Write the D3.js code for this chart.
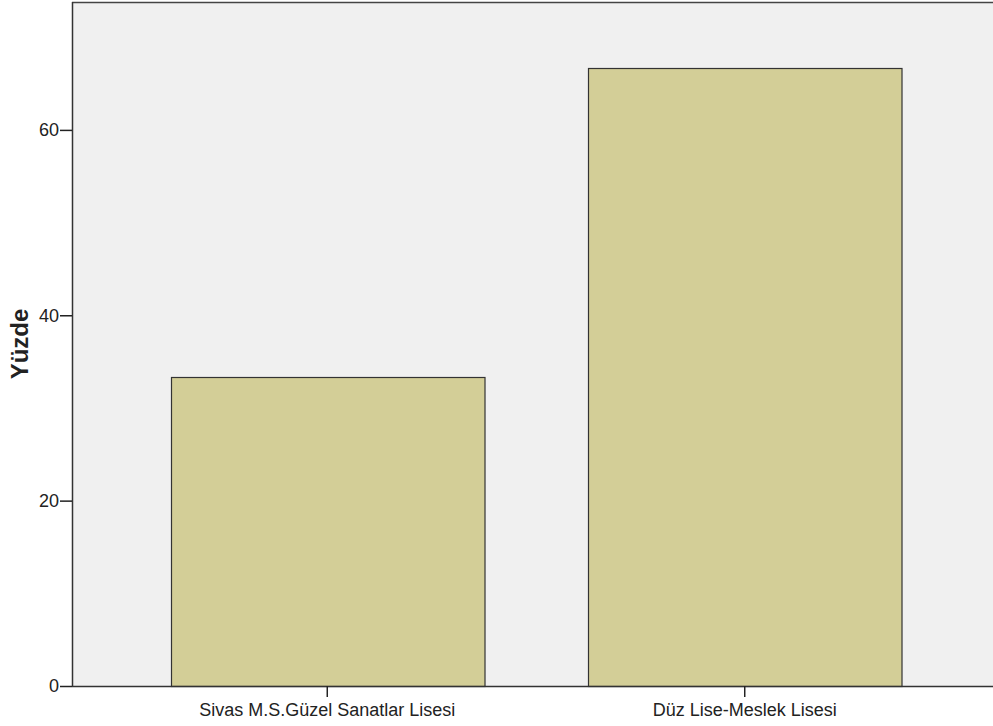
<!DOCTYPE html>
<html><head><meta charset="utf-8">
<script src="https://cdn.jsdelivr.net/npm/d3@7"></script>
<style>body{margin:0;background:#fff}svg{display:block}</style>
</head><body><svg id="c" width="993" height="726"></svg>
<script>
const categories = ["Sivas M.S.Güzel Sanatlar Lisesi", "Düz Lise-Meslek Lisesi"];
const values = [33.3, 66.7];
const yTicks = [0, 20, 40, 60];
const yTitle = "Yüzde";

const svg = d3.select("#c");
const L = 72, R = 1000, T = 2, B = 686;
const y = d3.scaleLinear().domain([0, 73.8]).range([B, T]);
const x = d3.scaleBand().domain(categories).range([L, R]).paddingInner(0.249).paddingOuter(0.236);

svg.append("rect").attr("x", L).attr("y", T).attr("width", 993 - L).attr("height", B - T).attr("fill", "#f0f0f0");
svg.append("line").attr("x1", L).attr("x2", 993).attr("y1", T + 0.5).attr("y2", T + 0.5).attr("stroke", "#444").attr("stroke-width", 1.5);

svg.selectAll("rect.bar").data(values).enter().append("rect").attr("class", "bar")
  .attr("x", (d, i) => Math.round(x(categories[i])) + 0.5)
  .attr("y", d => Math.round(y(d)) + 0.5)
  .attr("width", x.bandwidth())
  .attr("height", d => B - Math.round(y(d)))
  .attr("fill", "#d3ce97").attr("stroke", "#333").attr("stroke-width", 1.2);

const yAxis = d3.axisLeft(y).tickValues(yTicks).tickSize(12).tickPadding(1).tickFormat(d3.format("d"));
const ya = svg.append("g").attr("transform", `translate(${L},0)`).call(yAxis);
const xAxis = d3.axisBottom(x).tickSize(11).tickPadding(6);
const xa = svg.append("g").attr("transform", `translate(0,${B})`).call(xAxis);
[ya, xa].forEach(g => {
  g.attr("font-size", 18).attr("font-family", "Arial, 'Liberation Sans', sans-serif");
  g.select(".domain").attr("stroke", "#333").attr("stroke-width", 1.5);
  g.selectAll(".tick line").attr("stroke", "#222").attr("stroke-width", 1.5);
  g.selectAll("text").attr("fill", "#222");
});
xa.select(".domain").attr("d", `M${L},0.5H993`);
ya.select(".domain").attr("d", `M0.5,${B}V${T}`);

svg.append("text").attr("transform", `translate(28,${(T + B) / 2}) rotate(-90)`)
  .attr("text-anchor", "middle").attr("font-family", "Arial, 'Liberation Sans', sans-serif")
  .attr("font-size", 24).attr("font-weight", "bold").attr("fill", "#222").text(yTitle);
</script></body></html>
